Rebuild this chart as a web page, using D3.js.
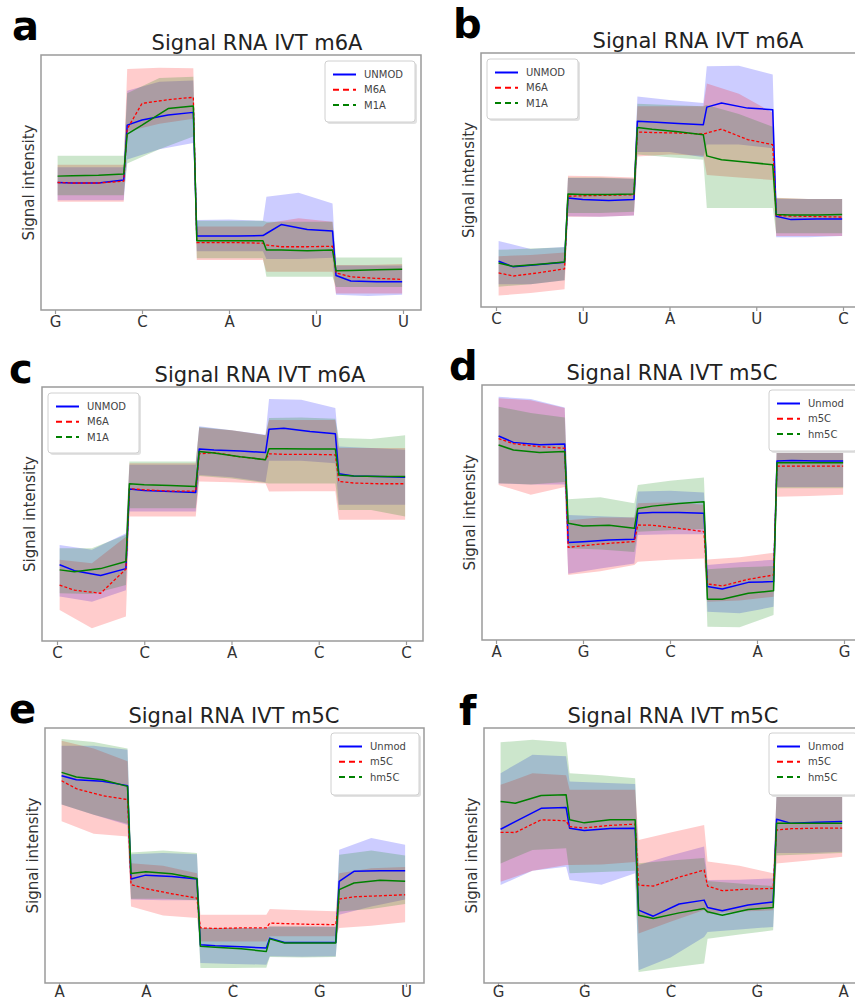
<!DOCTYPE html>
<html><head><meta charset="utf-8">
<script src="https://cdn.jsdelivr.net/npm/d3@7"></script>
<style>
body{margin:0;background:#fff;}
svg{display:block;font-family:"DejaVu Sans",sans-serif;}
</style>
</head><body>
<svg id="chart" width="855" height="1002"></svg>
<script>
// ---------- DATA ----------
const titleM6A = "Signal RNA IVT m6A";
const titleM5C = "Signal RNA IVT m5C";
const m6aSeriesNames = ["UNMOD", "M6A", "M1A"];
const m5cSeriesNames = ["Unmod", "m5C", "hm5C"];

const aCategories = ["G", "C", "A", "U", "U"];
const bCategories = ["C", "U", "A", "U", "C"];
const cCategories = ["C", "C", "A", "C", "C"];
const dCategories = ["A", "G", "C", "A", "G"];
const eCategories = ["A", "A", "C", "G", "U"];
const fCategories = ["G", "G", "C", "G", "A"];

// mean: 4 samples per base segment; lo/hi: 3 samples per base segment (signal, % of axis)
const aUnmodMean = [50,49.8,49.8,51, 72.5,74.5,76.5,77.5, 29,29,29,29.2, 30,33.5,31.6,31, 13.5,11.4,11.1,11.1];
const aUnmodLo = [43,43,43, 59,63,65.5, 23,23,23, 20,20,20.5, 6,5.5,6];
const aUnmodHi = [56,56,56, 86,89.5,90, 35.3,35.5,35, 44.4,46,41.8, 17.5,17.5,17.5];
const aM6aMean = [50,49.8,49.8,50.5, 71,81,82.5,83.4, 26.4,26.4,26.4,26.2, 25.5,24.8,24.8,25, 14.6,13,12.4,12];
const aM6aLo = [42.5,42.5,42.5, 70,73,75, 19.6,19.6,19.6, 15,15,15, 6.5,6.5,6.5];
const aM6aHi = [57,57,57, 94.5,95,94.8, 32.7,32.7,32.7, 34,36,34.6, 17.6,17.6,18];
const aM1aMean = [52.5,52.6,52.8,53.3, 69,72.5,79,80, 27.2,27.2,27.2,27.2, 23.5,23.5,23.2,23.5, 15.4,15.5,15.8,16];
const aM1aLo = [45,45,45, 57.5,63,68, 20.3,20.3,20.3, 13,13,13, 9,9,9];
const aM1aHi = [60.5,60.5,60.5, 85,91,91.5, 35,35,35, 34.6,34.6,34.6, 20.6,20.6,20.6];

const bUnmodMean = [18,15.8,16.7,17.6, 42.9,42.3,41.9,42.3, 73.1,72.8,72.2,71.8, 78.7,80.3,78.3,77.7, 35.7,34.4,34.6,34.6];
const bUnmodLo = [9,9,10.5, 35.7,35.5,36, 61,61,59, 64,64,62.5, 27.5,27.5,28];
const bUnmodHi = [26,22.8,23.6, 50.8,50.8,50.5, 82.9,81.5,80.3, 94.8,95,91.5, 42.5,42.5,42.5];
const bM6aMean = [13.4,12.2,13.5,15, 43.6,43.8,44,44.2, 68.9,68.7,68.5,68.1, 68.5,70,65.9,63.9, 36,35.8,35.6,35.4];
const bM6aLo = [4.5,5.5,7, 35.5,35.5,36, 59.3,60,59.5, 52,51,50, 28,28,28];
const bM6aHi = [20,20.5,21.5, 51.7,51.5,51, 79,79,79, 88,84,76.5, 43,42.5,42.5];
const bM1aMean = [17.3,16,16.8,17.7, 44.5,44.3,44.3,44.5, 70.7,70,69,67.8, 59.5,58,57,56, 36.4,36.2,36.2,36.4];
const bM1aLo = [8,9,10.5, 37,37,37.5, 60,59,58, 39,39,39, 29,29,29];
const bM1aHi = [22.5,23,23.5, 51,51,50.5, 80,79.5,79, 79.5,76,71, 42.9,42.5,42.5];

const cUnmodMean = [30,27.7,25.8,28.5, 59.8,59.3,58.9,58.5, 75.6,75.2,74.8,74.2, 83.4,83.8,82.5,81.6, 65.8,65,64.8,64.5];
const cUnmodLo = [17.5,15.5,20, 51,51,51, 65.4,64.5,62.5, 71,71,70, 53.6,53.6,53.6];
const cUnmodHi = [37.8,35.9,42.4, 69.4,69.4,69.4, 84.5,83,81.2, 95.3,95,91.7, 76.6,76,75.3];
const cM6aMean = [22,20,18.8,28.3, 60,59.5,59,59, 73.7,74.2,72.5,71.4, 73.7,73.5,73.5,73.3, 62.8,62.2,61.9,61.9];
const cM6aLo = [12.2,5,9.6, 49,49,49, 62.8,62.5,62, 58.9,59,59, 47.7,47.7,47.7];
const cM6aHi = [32,30.6,41, 70,70,70, 84,83,81, 87,87,87, 76,76,76];
const cM1aMean = [28,27.3,28.5,31.3, 61.9,61.5,61.2,60.8, 74.6,74,72.5,71.4, 75.7,75.7,75.6,75.6, 65.4,65,64.8,64.8];
const cM1aLo = [18.8,18.5,22, 52.3,52.3,52.3, 65,64,62.2, 62,62,62, 51.6,51.6,49];
const cM1aHi = [36.5,36.5,41.8, 70.7,70.7,70.7, 84.3,83,81, 87.8,88,87.5, 79.9,79.5,81];

const dUnmodMean = [80,77.5,76.6,76.9, 38.2,38.5,39.2,39.5, 49.7,50,50,49.7, 21,20,22.6,22.9, 70.2,70.4,70.2,70.2];
const dUnmodLo = [61.4,61,61, 26,28,30, 41.2,41.5,41.5, 11.1,10.5,13, 60,60,60];
const dUnmodHi = [95.4,94.5,91.2, 49,48.5,48, 58.2,58.5,57.8, 29.4,30.5,31.5, 79,79,79];
const dM5cMean = [79,77,75.8,75.2, 36.3,37,37.9,38.6, 45.1,45,43.8,42.5, 22,21.2,23.8,25.5, 68.2,68.2,68.2,68.2];
const dM5cLo = [60.8,57,60, 25.5,27,29.4, 30.7,31.5,32, 15,15.5,17, 56.2,56.5,57];
const dM5cHi = [94.8,94,91, 47,48,48, 53.6,54,53, 31.6,32.5,34.2, 79,79,79];
const dHm5cMean = [76.5,74.5,73.5,73.9, 45.8,44.7,45,43.8, 51.6,52.5,53.5,54.2, 16,16,18.3,19.3, 69.5,69.5,69.5,69.5];
const dHm5cLo = [61.5,61,62, 36,35.5,34.5, 42.5,43,43.5, 5.2,5,9.8, 59.5,59.5,59.5];
const dHm5cHi = [91.5,89,87.3, 55.2,56,53.6, 60.8,62.5,63.7, 27.7,28.5,29, 79.5,79.5,79.5];

const eUnmodMean = [81.3,79.7,79.1,77.4, 40.8,42.3,41.8,40.8, 15,14.6,14.2,13.7, 17.6,15.9,15.9,15.9, 39.9,43.8,44,44];
const eUnmodLo = [70,66,62, 32.7,32.5,32.5, 7.8,7.5,7.2, 10.5,10.3,10.5, 26.8,30,32.7];
const eUnmodHi = [93,93,91.5, 50.5,51,50.5, 21.6,21.6,21.6, 22.2,22.2,22.2, 52.3,56.9,54.2];
const eM5cMean = [79.3,76.2,73.5,71.9, 38.6,37,35,33.3, 21.6,21.4,21.6,21.6, 23.5,23.3,23,22.9, 32.9,33.8,34.2,34.6];
const eM5cLo = [63.4,58.5,57.5, 30,26.5,25.5, 16.3,16.3,16.3, 18.3,18.3,18.3, 21.6,22.5,23.8];
const eM5cHi = [95,92,87, 47,46,43, 26.8,26.8,26.8, 29,28.5,28.1, 43,45,45.5];
const eHm5cMean = [82.6,80.8,79.7,77.1, 42.9,43.6,42.8,41, 14.4,14,13.4,12.4, 17.3,15.7,15.7,15.7, 36.6,39.2,40.3,39.9];
const eHm5cLo = [70,66,62.5, 33,33,32.5, 5.9,5.9,6, 10.2,10,10.2, 28,29,31];
const eHm5cHi = [95.7,94.5,92, 51.2,52,51, 21.6,21.6,21.4, 22.2,22.2,22, 50.3,52,50];

const fUnmodMean = [60.3,63.3,68.5,68.8, 60.7,59.8,60.6,60.7, 28.6,26.2,31,32.5, 29.6,28.3,30.6,31.8, 64.2,62.6,63,63.3];
const fUnmodLo = [38.4,44,45.6, 40.4,38.5,43, 5,10,18, 20,21,22, 51,51,51.5];
const fUnmodHi = [82.3,89.5,88.9, 79,78.5,78, 46.3,50,53.5, 40.4,40.5,41, 74.4,74.4,74.4];
const fM5cMean = [59.1,59,64,63.6, 61.3,60.8,61.8,62.3, 38.4,38,41.5,44.3, 38,36.2,36.8,37.1, 60,60.5,60.7,60.7];
const fM5cLo = [39.7,44,46.3, 46.3,46.5,47.5, 19.4,24,28.6, 27.3,28,28.5, 46.9,48,49.5];
const fM5cHi = [77.7,82.3,81.5, 75.8,75.8,75.8, 56.1,59,62, 47.6,46,43, 74,74,74];
const fHm5cMean = [71.2,70.5,73.5,73.8, 64,62.8,64,64, 26.6,25.3,27.5,29.2, 27.9,26.6,28.8,29.6, 62.6,62.6,62.6,62.6];
const fHm5cLo = [46.9,52.2,52.8, 43,43.5,44, 4.3,6,7.6, 17.4,19,20.7, 50,50.5,51];
const fHm5cHi = [94.4,95.4,94.4, 82.3,81.5,80.3, 47,48,49, 40,39,38, 75,75,75];

// ---------- STRUCTURE ----------
const segWidth = 0.8;
const meanOffsets = [0.03, 0.2, 0.5, 0.79];
const bandOffsets = [0.03, 0.4, 0.79];
const seriesColors = ["#0000ff", "#ff0000", "#008000"];

const panels = [
  {key:"a", title:titleM6A, cats:aCategories, names:m6aSeriesNames,
   series:[[aUnmodMean,aUnmodLo,aUnmodHi],[aM6aMean,aM6aLo,aM6aHi],[aM1aMean,aM1aLo,aM1aHi]],
   L:41,R:421,T:55,B:310,t0:55,t4:403,tx:257,ty:50,lx:12,ly:40,gx:325,gy:61,gw:90,gh:61,pad:2},
  {key:"b", title:titleM6A, cats:bCategories, names:m6aSeriesNames,
   series:[[bUnmodMean,bUnmodLo,bUnmodHi],[bM6aMean,bM6aLo,bM6aHi],[bM1aMean,bM1aLo,bM1aHi]],
   L:481,R:861,T:53,B:307,t0:496,t4:843,tx:698,ty:48,lx:453,ly:38,gx:487,gy:59,gw:91,gh:60,pad:2},
  {key:"c", title:titleM6A, cats:cCategories, names:m6aSeriesNames,
   series:[[cUnmodMean,cUnmodLo,cUnmodHi],[cM6aMean,cM6aLo,cM6aHi],[cM1aMean,cM1aLo,cM1aHi]],
   L:42,R:423,T:387,B:641,t0:57,t4:406,tx:260,ty:382,lx:9,ly:383,gx:48,gy:393,gw:91,gh:60,pad:2},
  {key:"d", title:titleM5C, cats:dCategories, names:m5cSeriesNames,
   series:[[dUnmodMean,dUnmodLo,dUnmodHi],[dM5cMean,dM5cLo,dM5cHi],[dHm5cMean,dHm5cLo,dHm5cHi]],
   L:482,R:862,T:385,B:640,t0:496,t4:844,tx:672,ty:380,lx:449,ly:380,gx:769,gy:390,gw:88,gh:61,pad:2},
  {key:"e", title:titleM5C, cats:eCategories, names:m5cSeriesNames,
   series:[[eUnmodMean,eUnmodLo,eUnmodHi],[eM5cMean,eM5cLo,eM5cHi],[eHm5cMean,eHm5cLo,eHm5cHi]],
   L:45,R:424,T:728,B:983,t0:59,t4:406,tx:234,ty:723,lx:9,ly:723,gx:331,gy:733,gw:88,gh:62,pad:-1},
  {key:"f", title:titleM5C, cats:fCategories, names:m5cSeriesNames,
   series:[[fUnmodMean,fUnmodLo,fUnmodHi],[fM5cMean,fM5cLo,fM5cHi],[fHm5cMean,fHm5cLo,fHm5cHi]],
   L:484,R:861,T:728,B:983,t0:498,t4:843,tx:673,ty:723,lx:459,ly:725,gx:769,gy:733,gw:88,gh:62,pad:-1}
];

const svg = d3.select("#chart");

panels.forEach(p => {
  const g = svg.append("g");
  const x = d3.scaleLinear().domain([0, p.cats.length - 1]).range([p.t0, p.t4]);
  const y = d3.scaleLinear().domain([0, 100]).range([p.B, p.T]);

  const meanX = i => Math.floor(i / meanOffsets.length) * segWidth + meanOffsets[i % meanOffsets.length];
  const bandX = i => Math.floor(i / bandOffsets.length) * segWidth + bandOffsets[i % bandOffsets.length];

  // bands
  p.series.forEach((s, k) => {
    const [mean, lo, hi] = s;
    const band = lo.map((v, i) => ({x: bandX(i), lo: v, hi: hi[i]}));
    const area = d3.area().x(d => x(d.x)).y0(d => y(d.lo)).y1(d => y(d.hi));
    g.append("path").attr("d", area(band))
      .attr("fill", seriesColors[k]).attr("fill-opacity", 0.2).attr("stroke", "none");
  });
  // mean lines
  p.series.forEach((s, k) => {
    const mean = s[0];
    const pts = mean.map((v, i) => ({x: meanX(i), v}));
    const line = d3.line().x(d => x(d.x)).y(d => y(d.v));
    const path = g.append("path").attr("d", line(pts))
      .attr("fill", "none").attr("stroke", seriesColors[k])
      .attr("stroke-width", k === 1 ? 1.3 : 1.5).attr("stroke-linejoin", "round");
    if (k === 1) path.attr("stroke-dasharray", "3,2");
  });

  // frame
  g.append("rect").attr("x", p.L).attr("y", p.T)
    .attr("width", p.R - p.L).attr("height", p.B - p.T)
    .attr("fill", "none").attr("stroke", "#9a9a9a").attr("stroke-width", 1.5);

  // x axis
  const axis = d3.axisBottom(x).tickValues(d3.range(p.cats.length))
    .tickFormat(i => p.cats[i]).tickSize(4).tickPadding(p.pad);
  const ax = g.append("g").attr("transform", `translate(0,${p.B})`).call(axis);
  ax.select(".domain").remove();
  ax.selectAll(".tick line").attr("stroke", "#9a9a9a").attr("stroke-width", 1.2);
  ax.selectAll(".tick text").attr("font-size", 15).attr("fill", "#333")
    .attr("font-family", "DejaVu Sans");

  // y label
  g.append("text").attr("transform", `translate(${p.L - 7},${(p.T + p.B) / 2}) rotate(-90)`)
    .attr("text-anchor", "middle").attr("font-size", 15).attr("fill", "#333")
    .text("Signal intensity");

  // title
  g.append("text").attr("x", p.tx).attr("y", p.ty).attr("text-anchor", "middle")
    .attr("font-size", 21).attr("fill", "#222").text(p.title);

  // panel letter
  g.append("text").attr("x", p.lx).attr("y", p.ly).attr("font-size", 40)
    .attr("font-weight", "bold").attr("fill", "#000").text(p.key);

  // legend
  const lg = g.append("g").attr("transform", `translate(${p.gx},${p.gy})`);
  lg.append("rect").attr("x", 2).attr("y", 2).attr("width", p.gw).attr("height", p.gh)
    .attr("rx", 3).attr("fill", "#e2e2e2");
  lg.append("rect").attr("width", p.gw).attr("height", p.gh).attr("rx", 3)
    .attr("fill", "#fff").attr("stroke", "#d0d0d0").attr("stroke-width", 1);
  p.names.forEach((n, k) => {
    const yy = 13.5 + k * 15.3;
    const ln = lg.append("line").attr("x1", 8).attr("x2", 31).attr("y1", yy).attr("y2", yy)
      .attr("stroke", seriesColors[k]).attr("stroke-width", 2);
    if (k > 0) ln.attr("stroke-dasharray", "6,4");
    lg.append("text").attr("x", 39).attr("y", yy).attr("dy", "0.35em")
      .attr("font-size", 10).attr("fill", "#444").text(n);
  });
});
</script>
</body></html>
